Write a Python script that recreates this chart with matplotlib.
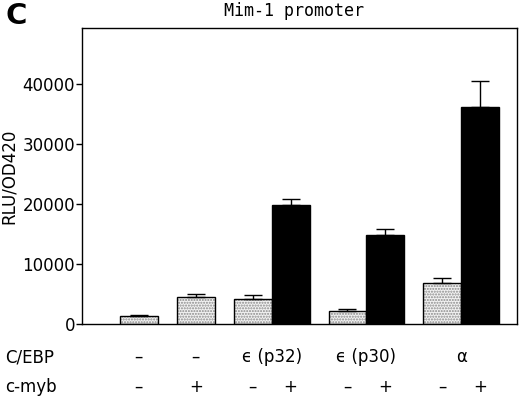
import matplotlib
matplotlib.use("Agg")
import matplotlib.pyplot as plt
import numpy as np

# Data
cebp_labels = ["–", "–", "ϵ (p32)", "ϵ (p30)", "α"]
cmyb_labels = ["–", "+", "–", "+", "–", "+", "–", "+"]
bar_group = [0, 1, 2, 2, 3, 3, 4, 4]
cebp_present = [False, False, True, True, True, True, True, True]
myb_present = [False, True, False, True, False, True, False, True]
values = [1300, 4450, 4150, 19900, 2100, 14900, 6800, 36100]
errors = [220, 550, 600, 950, 350, 950, 850, 4400]
yticks = [0, 10000, 20000, 30000, 40000]

FS = 12
fig = plt.figure(figsize=(5.2, 3.96), dpi=100)
ax = fig.add_axes([82/520, 1-324/396, (517-82)/520, (324-28)/396])

xs = []
x = 1.0
prev_group = None
for g in bar_group:
    if prev_group is None:
        x = 1.0
    elif g == prev_group:
        x += 1.0
    else:
        x += 1.5
    xs.append(x)
    prev_group = g
xs = np.array(xs)

for xi, v, c, m in zip(xs, values, cebp_present, myb_present):
    if c and m:
        ax.bar(xi, v, width=1.0, align="edge", color="black", edgecolor="black", linewidth=1, zorder=2)
    else:
        ax.bar(xi, v, width=1.0, align="edge", color="#f2f2f2", edgecolor="#8a8a8a",
               hatch="......", linewidth=0, zorder=2)
        ax.bar(xi, v, width=1.0, align="edge", fill=False, edgecolor="black", linewidth=1, zorder=3)

ax.errorbar(xs + 0.5, values, yerr=[np.zeros(len(errors)), errors], fmt="none",
            ecolor="black", elinewidth=1, capsize=6.8, capthick=1, zorder=4)

ax.set_xlim(0, 11.47)
ax.set_ylim(0, 49300)
ax.set_xticks([])
ax.set_yticks(yticks)
ax.set_yticklabels([str(t) for t in yticks], fontsize=FS)
ax.tick_params(axis="y", direction="out", length=4, width=1, pad=1)
for s in ax.spines.values():
    s.set_linewidth(1)
ax.set_ylabel("RLU/OD420", fontsize=FS, labelpad=3)

ax.set_title("Mim-1 promoter", fontsize=12, family="DejaVu Sans Mono", pad=9, x=0.487)
fig.text(16/520, 1-16/396, "C", fontsize=21, fontweight="bold", ha="center", va="center")

trans = ax.get_xaxis_transform()
fig.text(5/520, 1-357/396, "C/EBP", fontsize=FS, ha="left", va="center")
fig.text(5/520, 1-387/396, "c-myb", fontsize=FS, ha="left", va="center")
ygrp = -(357-324)/296
ymyb = -(387-324)/296
for gi, lab in enumerate(cebp_labels):
    idx = [i for i, g in enumerate(bar_group) if g == gi]
    cx = (xs[idx[0]] + xs[idx[-1]] + 1) / 2
    ax.text(cx, ygrp, lab, transform=trans, fontsize=FS, ha="center", va="center", clip_on=False)
for xi, lab in zip(xs, cmyb_labels):
    ax.text(xi + 0.5, ymyb, lab, transform=trans, fontsize=FS, ha="center", va="center", clip_on=False)

fig.savefig("out.png", dpi=100)
